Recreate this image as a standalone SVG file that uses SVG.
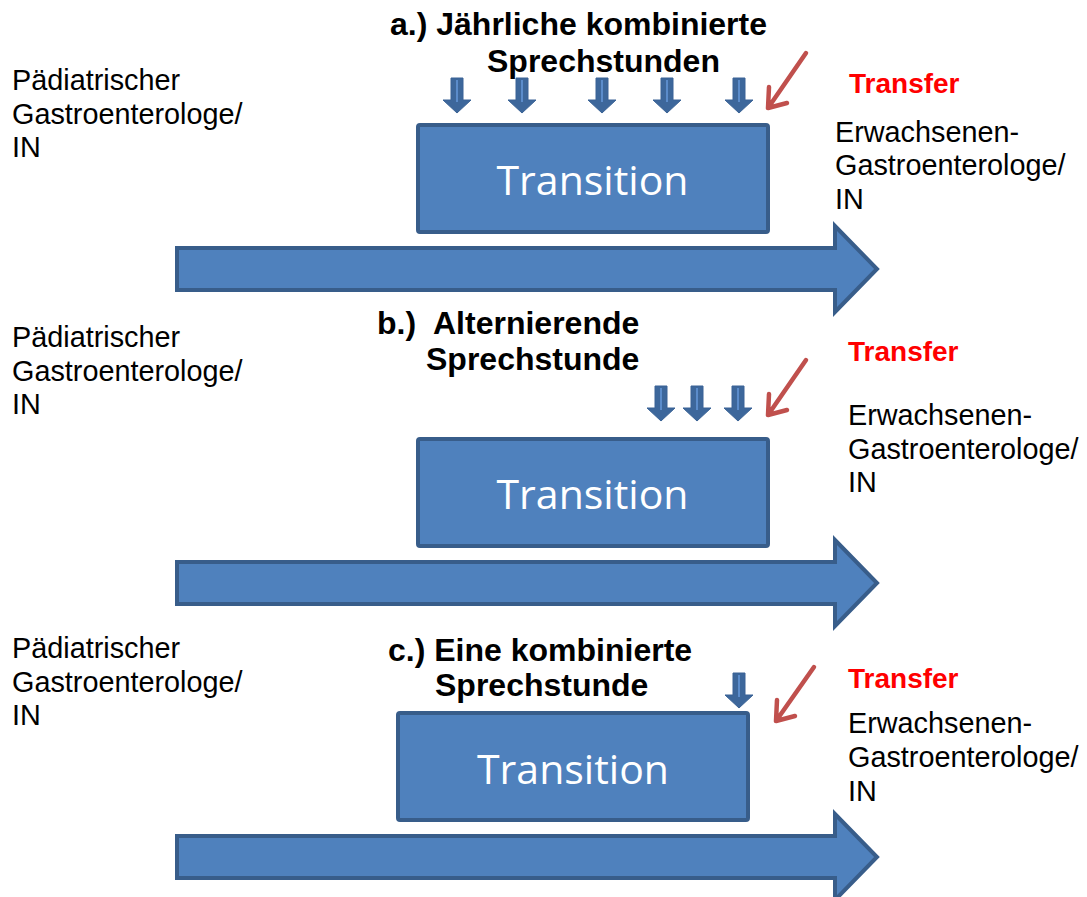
<svg xmlns="http://www.w3.org/2000/svg" width="1087" height="897" viewBox="0 0 1087 897">
<style>
.lbl{font-family:"Liberation Sans",Arial,sans-serif;font-size:28.8px;fill:#000}
.ttl{font-family:"Liberation Sans",Arial,sans-serif;font-size:32px;font-weight:bold;fill:#000}
.tr{font-family:"Liberation Sans",Arial,sans-serif;font-size:28px;font-weight:bold;fill:#FF0000}
.box{fill:#4F81BD;stroke:#385D8A;stroke-width:4}
.big{fill:#4F81BD;stroke:#385D8A;stroke-width:4;stroke-linejoin:miter}
.bt{font-family:"Open Sans",sans-serif;font-size:41px;fill:#FFFFFF;text-anchor:middle}
.red{fill:none;stroke:#C0504D;stroke-width:4.5;stroke-linecap:round;stroke-linejoin:round}
.sa{fill:#3D679B;stroke:#3A6396;stroke-width:1}
.hl{stroke:#5B8CCB;stroke-width:2}
</style>
<defs>
<g id="down">
<path class="sa" d="M-6,0 H6 V22 H14 L0,35 L-14,22 H-6 Z"/>
<line class="hl" x1="0" y1="2" x2="0" y2="24"/>
</g>
</defs>

<g id="panel-a">
<g id="a-left"><text class="lbl" x="12" y="90">Pädiatrischer</text><text class="lbl" x="12" y="123.5">Gastroenterologe/</text><text class="lbl" x="12" y="157">IN</text></g>
<g id="a-title"><text class="ttl" x="390" y="35">a.) Jährliche kombinierte</text><text class="ttl" x="487" y="71.5">Sprechstunden</text></g>
<g id="a-transfer"><text class="tr" x="849" y="93">Transfer</text></g>
<g id="a-right"><text class="lbl" x="835" y="141.5">Erwachsenen-</text><text class="lbl" x="835" y="175">Gastroenterologe/</text><text class="lbl" x="835" y="208.5">IN</text></g>
<g id="a-box"><rect class="box" x="418" y="125" width="350" height="107" rx="2"/><text class="bt" x="592.5" y="195">Transition</text></g>
</g>

<g id="panel-b">
<g id="b-left"><text class="lbl" x="12" y="347">Pädiatrischer</text><text class="lbl" x="12" y="380.5">Gastroenterologe/</text><text class="lbl" x="12" y="414">IN</text></g>
<g id="b-title"><text class="ttl" x="377" y="334">b.)<tspan x="433">Alternierende</tspan></text><text class="ttl" x="426" y="370">Sprechstunde</text></g>
<g id="b-transfer"><text class="tr" x="848" y="361">Transfer</text></g>
<g id="b-right"><text class="lbl" x="848" y="425">Erwachsenen-</text><text class="lbl" x="848" y="458.5">Gastroenterologe/</text><text class="lbl" x="848" y="492">IN</text></g>
<g id="b-box"><rect class="box" x="418" y="439" width="350" height="107" rx="2"/><text class="bt" x="592.5" y="509">Transition</text></g>
</g>

<g id="panel-c">
<g id="c-left"><text class="lbl" x="12" y="658">Pädiatrischer</text><text class="lbl" x="12" y="691.5">Gastroenterologe/</text><text class="lbl" x="12" y="725">IN</text></g>
<g id="c-title"><text class="ttl" x="388" y="661">c.) Eine kombinierte</text><text class="ttl" x="435" y="696">Sprechstunde</text></g>
<g id="c-transfer"><text class="tr" x="848" y="688">Transfer</text></g>
<g id="c-right"><text class="lbl" x="848" y="733">Erwachsenen-</text><text class="lbl" x="848" y="766.5">Gastroenterologe/</text><text class="lbl" x="848" y="801">IN</text></g>
<g id="c-box"><rect class="box" x="398" y="713" width="350" height="107" rx="2"/><text class="bt" x="573" y="783.5">Transition</text></g>
</g>

<g id="connectors">
<path class="big" d="M177,248 H835 V226 L877,269 L835,312 V290 H177 Z"/>
<path class="big" d="M177,562 H835 V540 L877,583 L835,626 V604 H177 Z"/>
<path class="big" d="M177,836 H835 V814 L877,857 L835,900 V878 H177 Z"/>

<use href="#down" x="457" y="78"/>
<use href="#down" x="522" y="78"/>
<use href="#down" x="602" y="78"/>
<use href="#down" x="667" y="78"/>
<use href="#down" x="739" y="78"/>

<use href="#down" x="661" y="386"/>
<use href="#down" x="697" y="386"/>
<use href="#down" x="738" y="386"/>

<use href="#down" x="739" y="673"/>

<path class="red" d="M806,53 L768,108 M769,87 L768,108 L787,103"/>
<path class="red" d="M806,360 L768,415 M769,394 L768,415 L787,410"/>
<path class="red" d="M814,667 L776,721 M777,700 L776,721 L795,716"/>
</g>
</svg>
